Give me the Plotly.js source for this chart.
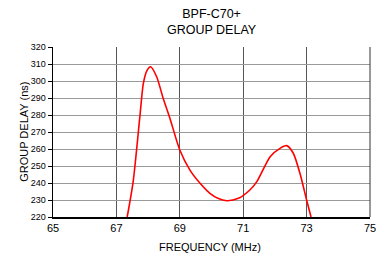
<!DOCTYPE html>
<html>
<head>
<meta charset="utf-8">
<script src="https://cdn.plot.ly/plotly-3.0.1.min.js"></script>
<style>html,body{margin:0;padding:0;background:#fff;}#chart{width:391px;height:254px;}</style>
</head>
<body>
<div id="chart"></div>
<script>
var freqMHz = [67.34, 67.53, 67.74, 67.85, 67.96, 68.08, 68.27, 68.48, 68.69, 69.0, 69.32, 69.64, 69.95, 70.2, 70.48, 70.85, 71.21, 71.43, 71.85, 72.16, 72.37, 72.58, 72.79, 73.0, 73.14];
var groupDelayNs = [220, 241, 279, 298.6, 306, 308.4, 302.5, 289.5, 278, 259.4, 247.6, 239.8, 233.9, 231, 229.6, 231, 235.9, 240.8, 255.5, 260.4, 262, 257.5, 245.7, 230, 220];
var xTicks = [65, 67, 69, 71, 73, 75];
var yTicks = [220, 230, 240, 250, 260, 270, 280, 290, 300, 310, 320];

var trace = {
  x: freqMHz, y: groupDelayNs, type: 'scatter', mode: 'lines',
  line: {color: '#ff0000', width: 1.6, shape: 'spline', smoothing: 0.7},
  hoverinfo: 'none'
};
var fam = 'Liberation Sans, Arial, sans-serif';
var layout = {
  width: 391, height: 254,
  margin: {l: 53, r: 21, t: 47, b: 37, pad: 0},
  paper_bgcolor: '#fff', plot_bgcolor: '#fff',
  showlegend: false,
  font: {family: fam, color: '#000'},
  xaxis: {
    range: [65, 75], tickvals: xTicks, ticktext: xTicks.map(String),
    showgrid: true, gridcolor: '#555', gridwidth: 1,
    showline: true, linecolor: '#000', linewidth: 1.5,
    ticks: '', tickfont: {family: fam, size: 11, color: '#000'},
    zeroline: false, fixedrange: true
  },
  yaxis: {
    range: [220, 320], tickvals: yTicks, ticktext: yTicks.map(String),
    showgrid: true, gridcolor: '#999', gridwidth: 1,
    showline: true, linecolor: '#000', linewidth: 1.5,
    ticks: 'outside', ticklen: 4, tickcolor: '#000',
    tickfont: {family: fam, size: 9, color: '#000'},
    zeroline: false, fixedrange: true
  },
  shapes: [
    {type: 'line', xref: 'paper', yref: 'paper', x0: 1, x1: 1, y0: 0, y1: 1, line: {color: '#333', width: 1}}
  ],
  annotations: [
    {text: 'BPF-C70+<br>GROUP DELAY', xref: 'paper', yref: 'paper', x: 0.5, y: 1.15, xanchor: 'center', yanchor: 'middle',
     showarrow: false, font: {family: fam, size: 12.5, color: '#000'}},
    {text: 'FREQUENCY (MHz)', xref: 'paper', yref: 'paper', x: 0.495, y: -0.176, xanchor: 'center', yanchor: 'middle',
     showarrow: false, font: {family: fam, size: 11, color: '#000'}},
    {text: 'GROUP DELAY (ns)', xref: 'paper', yref: 'paper', x: -0.092, y: 0.5, xanchor: 'center', yanchor: 'middle',
     textangle: -90, showarrow: false, font: {family: fam, size: 11, color: '#000'}}
  ]
};
Plotly.newPlot('chart', [trace], layout, {staticPlot: true, displayModeBar: false});
</script>
</body>
</html>
